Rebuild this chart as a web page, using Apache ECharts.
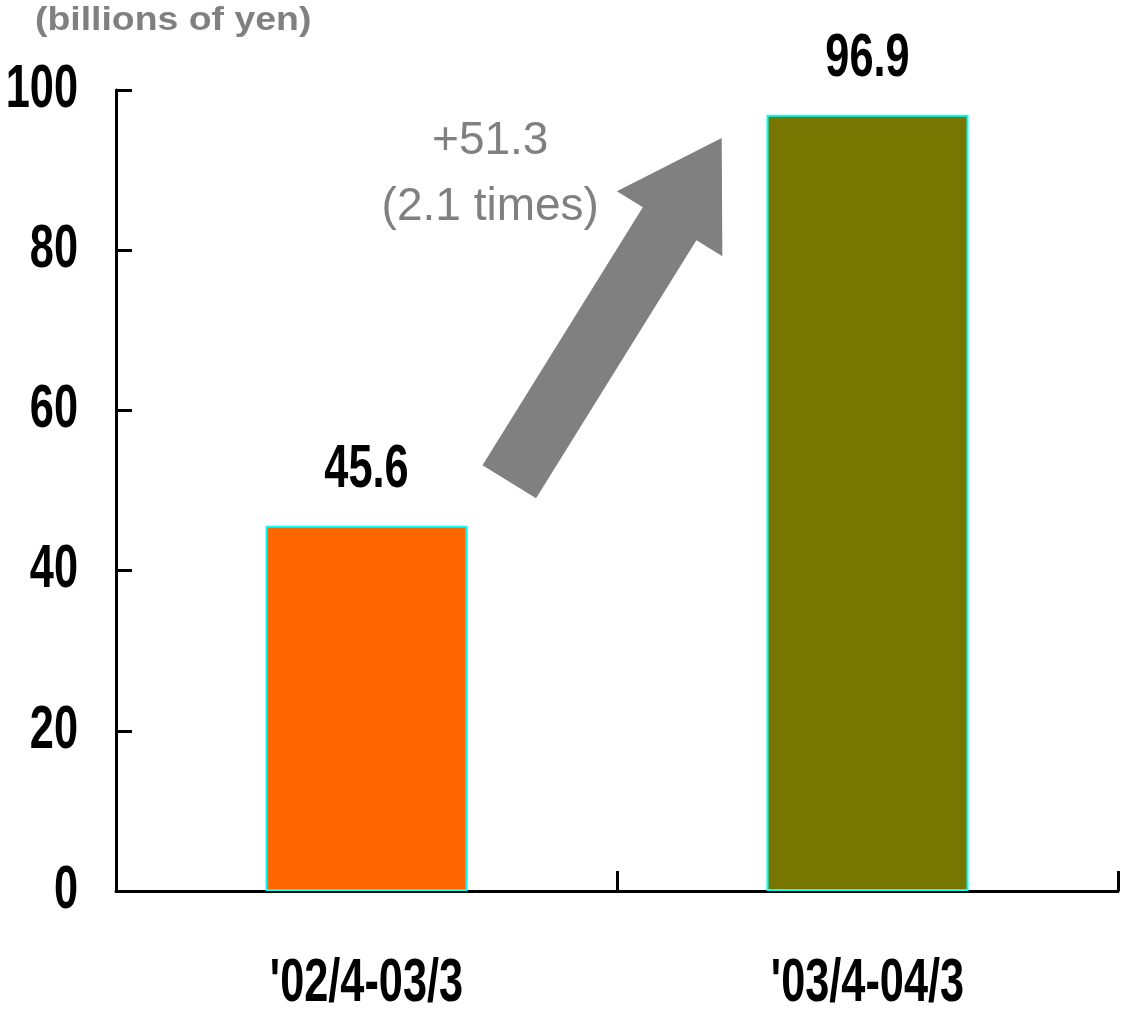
<!DOCTYPE html>
<html>
<head>
<meta charset="utf-8">
<script src="https://cdn.jsdelivr.net/npm/echarts@6/dist/echarts.min.js"></script>
<style>
  html, body { margin: 0; padding: 0; background: #ffffff; }
  #chart { width: 1126px; height: 1014px; }
</style>
</head>
<body>
<div id="chart"></div>
<script>
// Fiscal periods and amounts (billions of yen)
const categories = ["'02/4-03/3", "'03/4-04/3"];
const values = [45.6, 96.9];
const barColors = ['#FF6600', '#777600'];
const yTicks = [0, 20, 40, 60, 80, 100];

const unitLabel = '(billions of yen)';
const sans = '"Liberation Sans", Arial, Helvetica, sans-serif';

// Condensed bold numerals: bold sans squeezed horizontally
const numFont = 'bold 61px ' + sans;
const numSqueeze = 0.71;

const chart = echarts.init(document.getElementById('chart'), null, { renderer: 'canvas' });

chart.setOption({
  animation: false,
  backgroundColor: '#ffffff',
  grid: {
    left: 116, right: 8, top: 90, bottom: 123,
    containLabel: false,
    outerBoundsMode: 'none'
  },
  xAxis: {
    type: 'category',
    data: categories,
    boundaryGap: true,
    axisLine: { show: true, lineStyle: { color: '#000', width: 3 } },
    axisTick: { show: true, inside: true, length: 20, lineStyle: { color: '#000', width: 3 } },
    axisLabel: { show: false },
    splitLine: { show: false }
  },
  yAxis: {
    type: 'value',
    min: yTicks[0],
    max: yTicks[yTicks.length - 1],
    interval: yTicks[1] - yTicks[0],
    axisLine: { show: true, lineStyle: { color: '#000', width: 3 } },
    axisTick: { show: true, inside: true, length: 16, lineStyle: { color: '#000', width: 3 } },
    axisLabel: { show: false },
    splitLine: { show: false }
  },
  series: [{
    type: 'bar',
    barWidth: 202,
    data: values.map((v, i) => ({
      value: v,
      itemStyle: { color: barColors[i], borderColor: '#00FFFF', borderWidth: 2 }
    })),
    label: { show: false }
  }]
});

const xOf = c => chart.convertToPixel({ xAxisIndex: 0 }, c);
const yOf = v => chart.convertToPixel({ yAxisIndex: 0 }, v);

// Pixel position of a point given as a fractional category index and a value
function toPx(catPos, val) {
  const x0 = xOf(categories[0]);
  const x1 = xOf(categories[1]);
  return [x0 + catPos * (x1 - x0), yOf(val)];
}

function numText(text, x, y, align) {
  return {
    type: 'text',
    x: x, y: y,
    scaleX: numSqueeze,
    style: { text: text, fill: '#000', font: numFont, align: align, verticalAlign: 'middle' },
    z: 10
  };
}

const axisX = xOf(categories[0]) - (xOf(categories[1]) - xOf(categories[0])) / 2;
const baseY = yOf(0);

// Tick labels on the value axis
const yLabelGraphics = yTicks.map(v => numText(String(v), axisX - 38, yOf(v), 'right'));
// Period labels under the bars
const xLabelGraphics = categories.map(c => numText(c, xOf(c), baseY + 93, 'center'));
// Amounts above the bars
const valueLabelGraphics = values.map((v, i) => numText(v.toFixed(1), xOf(categories[i]), yOf(v) - 56, 'center'));

// Growth arrow between the two periods: tail, head base and tip in axis units
const tail = toPx(0.285, 51.1);
const headBase = toPx(0.605, 83.3);
const tip = toPx(0.709, 94.0);
const shaftHalf = 31.5;
const headHalf = 62;

const dx = tip[0] - tail[0], dy = tip[1] - tail[1];
const len = Math.hypot(dx, dy);
const nx = -dy / len, ny = dx / len;
const off = (p, w) => [p[0] + nx * w, p[1] + ny * w];
const arrowPoints = [
  off(tail, -shaftHalf),
  off(headBase, -shaftHalf),
  off(headBase, -headHalf),
  tip,
  off(headBase, headHalf),
  off(headBase, shaftHalf),
  off(tail, shaftHalf)
];

const diff = (values[1] - values[0]).toFixed(1);
const ratio = (values[1] / values[0]).toFixed(1);
const notePos1 = toPx(0.247, 93.6);
const notePos2 = toPx(0.247, 85.3);

chart.setOption({
  graphic: [
    {
      type: 'text',
      x: 35, y: 21,
      scaleX: 1.1,
      style: {
        text: unitLabel,
        fill: '#808080',
        font: 'bold 34px ' + sans,
        align: 'left',
        verticalAlign: 'middle'
      }
    },
    {
      type: 'polygon',
      shape: { points: arrowPoints },
      style: { fill: '#808080' },
      z: 5
    },
    {
      type: 'text',
      x: notePos1[0], y: notePos1[1],
      style: {
        text: '+' + diff,
        fill: '#808080',
        font: '46px ' + sans,
        align: 'center',
        verticalAlign: 'middle'
      },
      z: 6
    },
    {
      type: 'text',
      x: notePos2[0], y: notePos2[1],
      style: {
        text: '(' + ratio + ' times)',
        fill: '#808080',
        font: '46px ' + sans,
        align: 'center',
        verticalAlign: 'middle'
      },
      z: 6
    }
  ].concat(yLabelGraphics, xLabelGraphics, valueLabelGraphics)
});
</script>
</body>
</html>
